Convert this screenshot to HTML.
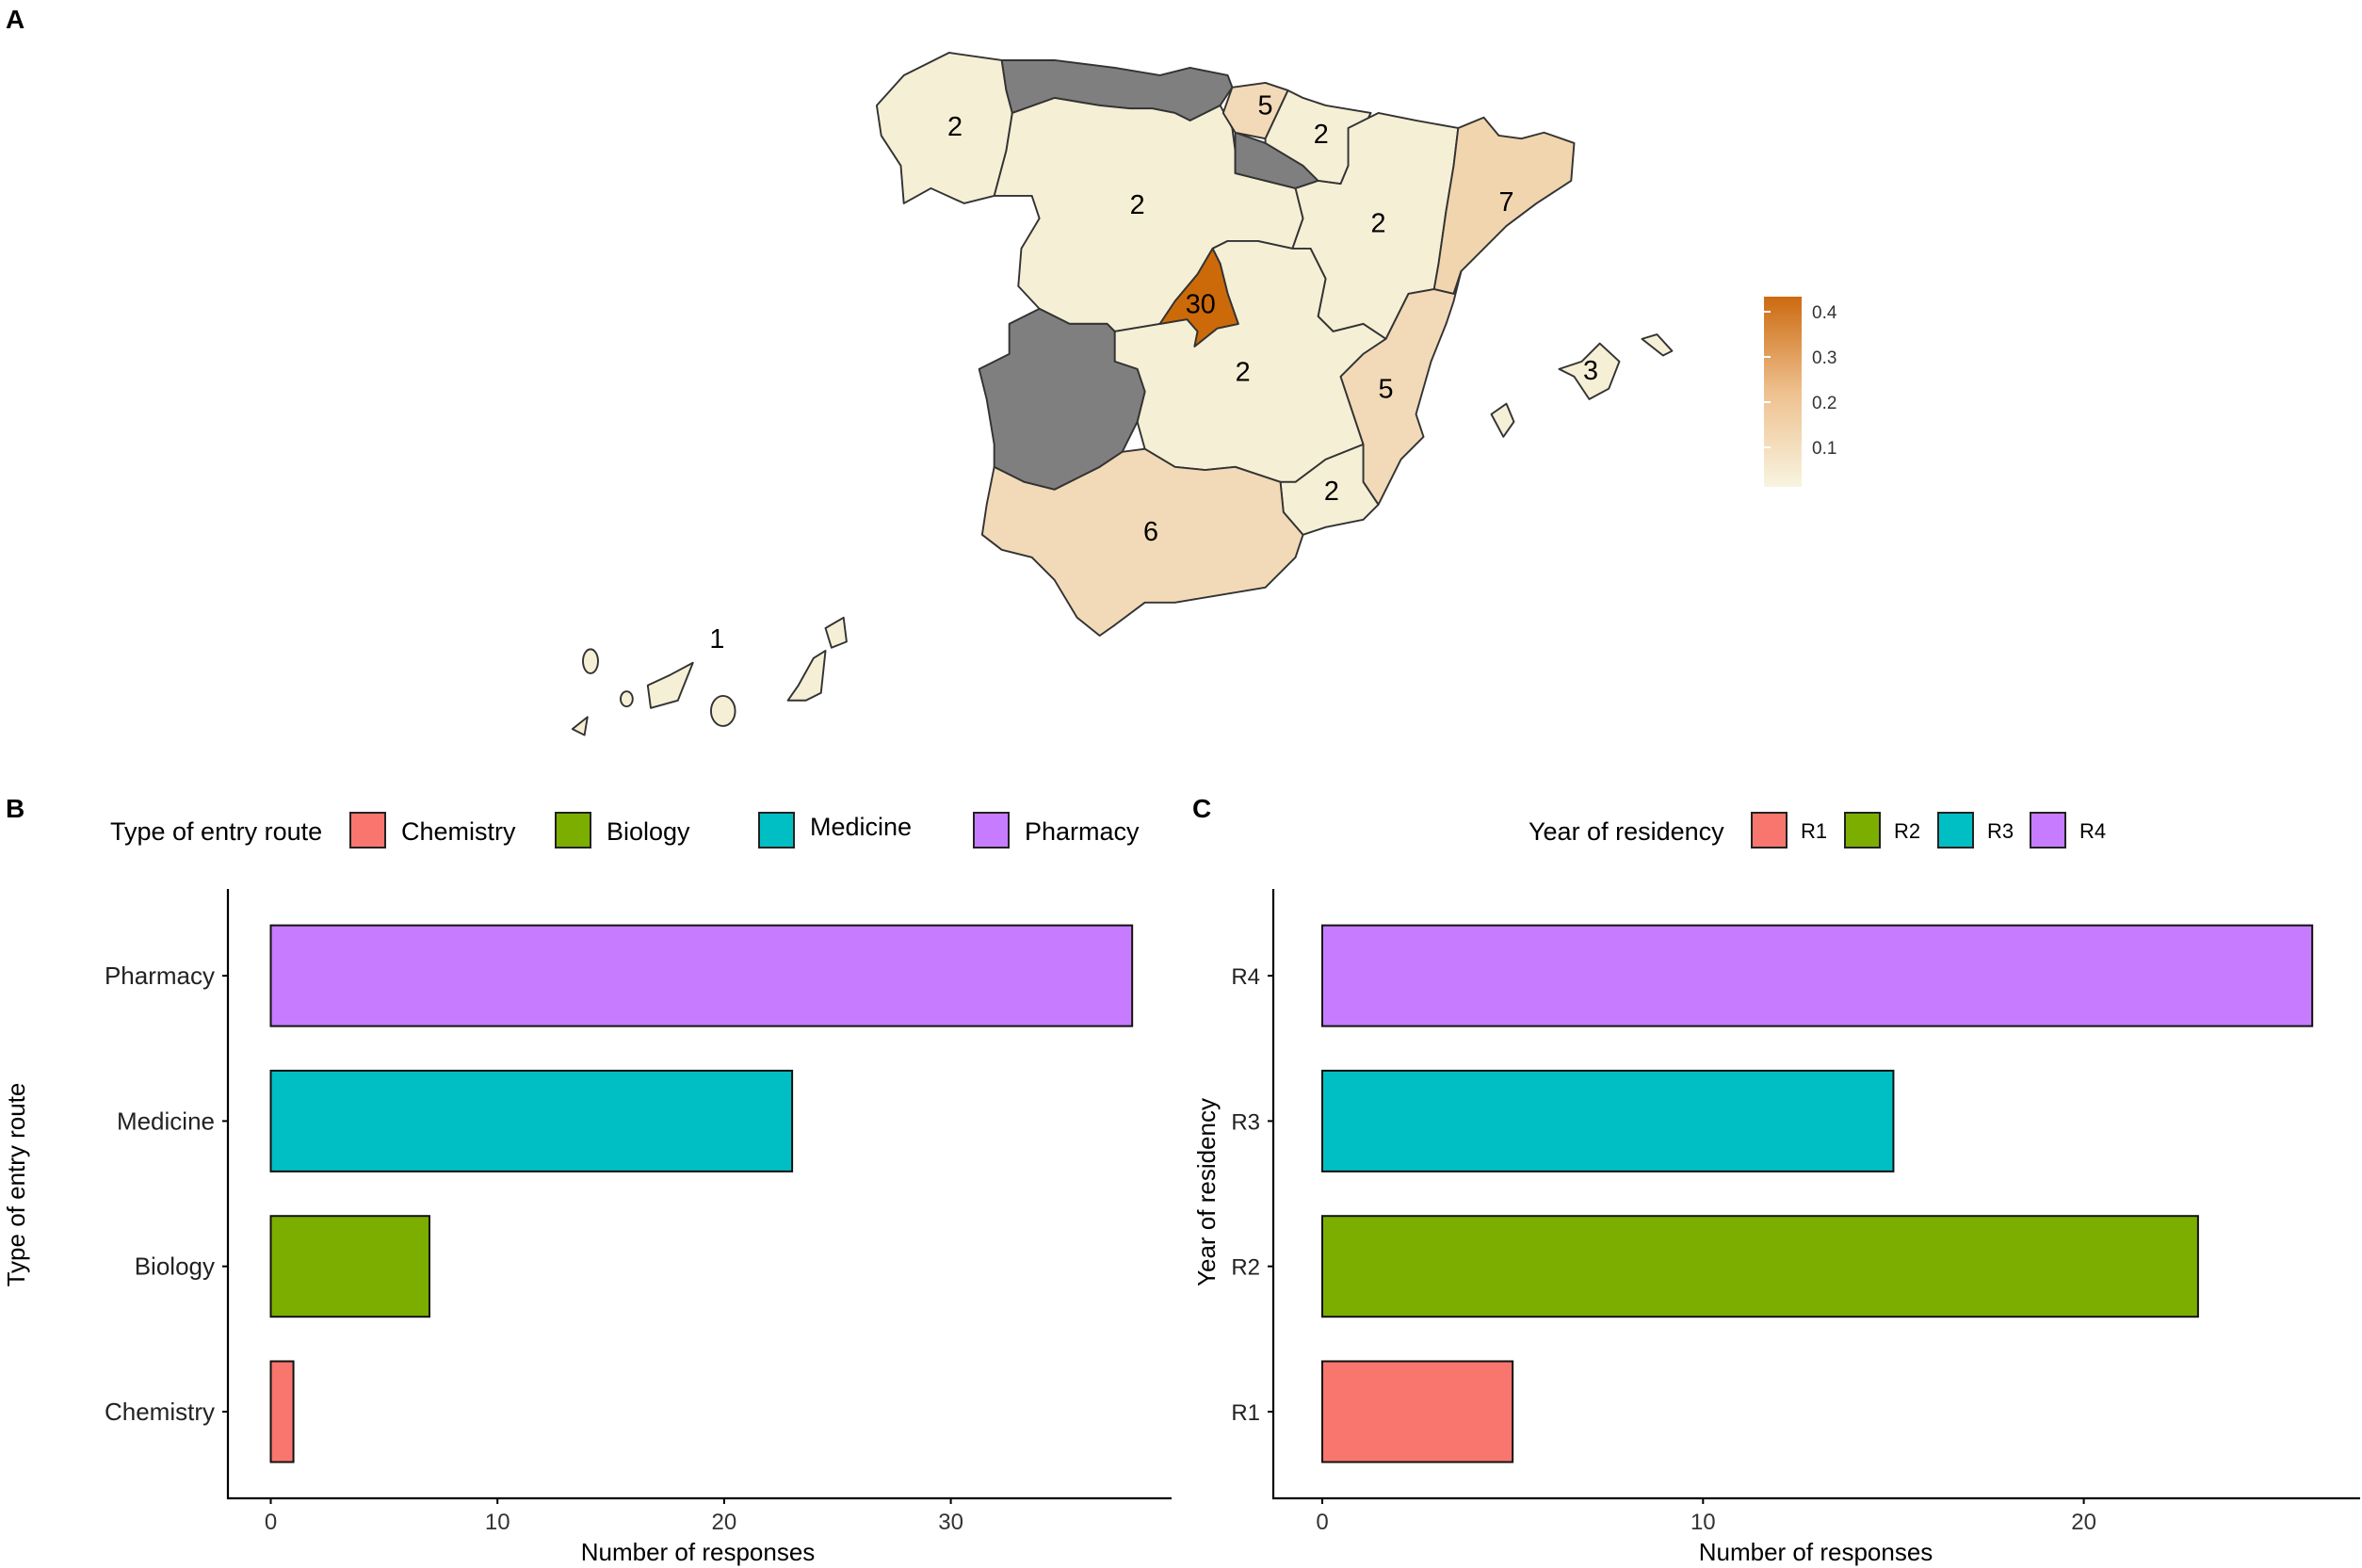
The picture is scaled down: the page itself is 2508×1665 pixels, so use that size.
<!DOCTYPE html>
<html><head><meta charset="utf-8">
<style>
html,body{margin:0;padding:0;background:#fff;}
svg{display:block;font-family:"Liberation Sans",Arial,sans-serif;}
</style></head>
<body>
<svg id="fig" width="2508" height="1665" viewBox="0 0 2508 1665" xmlns="http://www.w3.org/2000/svg">
<defs>
<linearGradient id="cbar" x1="0" y1="1" x2="0" y2="0">
<stop offset="0" stop-color="#f8f4e0"/><stop offset="0.5" stop-color="#eec08e"/><stop offset="1" stop-color="#cc6a10"/>
</linearGradient>
</defs>
<text x="6" y="30" font-size="28" font-weight="bold">A</text>
<g id="map" transform="scale(1.5995)" stroke="#333" stroke-width="1.2" stroke-linejoin="round">
<polygon fill="#f5efd6" points="582,70 600,50 630,35 665,40 668,60 672,75 668,100 660,130 640,135 618,125 600,135 598,110 585,90"/>
<polygon fill="#7f7f7f" points="665,40 700,40 740,45 770,50 790,45 815,50 818,58 810,70 790,80 780,75 765,72 750,72 730,70 700,65 672,75 668,60"/>
<polygon fill="#f5efd6" points="672,75 700,65 730,70 750,72 765,72 780,75 790,80 810,70 818,85 820,100 820,115 840,120 860,125 865,145 858,165 835,160 815,160 805,165 795,182 780,200 770,215 740,220 735,215 710,215 690,205 676,190 678,165 690,145 685,130 660,130 668,100"/>
<polygon fill="#7f7f7f" points="820,88 840,95 865,110 875,120 860,125 840,120 820,115"/>
<polygon fill="#f2dab8" points="818,58 840,55 855,60 848,75 840,92 820,88 812,75"/>
<polygon fill="#f5efd6" points="855,60 865,65 880,70 910,75 900,95 895,110 890,122 875,120 865,110 840,95 840,92 848,75"/>
<polygon fill="#f5efd6" points="895,85 915,75 940,80 968,85 965,110 960,140 955,175 952,192 935,195 920,225 905,215 885,220 875,210 880,185 870,165 858,165 865,145 860,125 875,120 890,122 895,110"/>
<polygon fill="#f1d5ae" points="968,85 985,78 995,90 1010,92 1025,88 1045,95 1043,120 1020,135 1000,150 985,165 970,180 965,195 952,192 955,175 960,140 965,110"/>
<polygon fill="#f5efd6" points="740,220 770,215 788,212 795,220 793,230 808,218 822,215 815,195 810,175 805,165 815,160 835,160 858,165 870,165 880,185 875,210 885,220 905,215 920,225 905,235 890,250 900,280 905,295 880,305 860,320 850,320 820,310 800,312 780,310 760,298 755,280 760,260 755,245 740,240"/>
<polygon fill="#cc6a0a" points="805,165 810,175 815,195 822,215 808,218 793,230 795,220 788,212 770,215 780,200 795,182"/>
<polygon fill="#7f7f7f" points="690,205 710,215 735,215 740,220 740,240 755,245 760,260 755,280 745,300 730,310 700,325 680,320 660,310 660,295 655,265 650,245 670,235 670,215"/>
<polygon fill="#f2dab8" points="952,192 965,195 970,180 965,200 960,215 950,240 940,275 945,290 930,305 915,335 905,320 905,295 900,280 890,250 905,235 920,225 935,195"/>
<polygon fill="#f5efd6" points="850,320 860,320 880,305 905,295 905,320 915,335 905,345 880,350 865,355 852,340"/>
<polygon fill="#f2dab8" points="660,310 680,320 700,325 730,310 745,300 760,298 780,310 800,312 820,310 850,320 852,340 865,355 860,370 840,390 810,395 780,400 760,400 740,415 730,422 715,410 700,385 685,370 665,365 652,355 655,335"/>
<polygon fill="#f5efd6" points="1035,245 1050,240 1062,228 1075,240 1068,258 1055,265 1045,250"/>
<polygon fill="#f5efd6" points="1090,225 1100,222 1110,233 1104,236"/>
<polygon fill="#f5efd6" points="990,275 1000,268 1005,280 998,290"/>
<g fill="#f5efd6">
<ellipse cx="392" cy="439" rx="5" ry="8"/>
<polygon points="430,455 445,448 460,440 450,465 432,470"/>
<ellipse cx="416" cy="464" rx="4" ry="5"/>
<ellipse cx="480" cy="472" rx="8" ry="10"/>
<polygon points="523,465 530,455 540,437 548,432 545,460 535,465"/>
<polygon points="548,417 560,410 562,426 552,430"/>
<polygon points="380,484 390,476 388,488"/>
</g>
<g stroke="none" fill="#000" font-size="18" text-anchor="middle">
<text x="634" y="90">2</text><text x="755" y="142">2</text><text x="840" y="76">5</text>
<text x="877" y="95">2</text><text x="915" y="154">2</text><text x="1000" y="140">7</text>
<text x="797" y="208">30</text><text x="825" y="253">2</text><text x="920" y="264">5</text>
<text x="884" y="332">2</text><text x="764" y="359">6</text><text x="1056" y="252">3</text>
<text x="476" y="430">1</text>
</g>
</g>
<g>
<rect x="1873" y="315" width="40" height="202" fill="url(#cbar)"/>
<g id="cbticks"></g>
</g>
<text x="6" y="868" font-size="28" font-weight="bold">B</text>
<text x="1266" y="868" font-size="28" font-weight="bold">C</text>
<g id="chartB"></g>
<g id="chartC"></g>
</svg>
<script>
const NS="http://www.w3.org/2000/svg";
// colorbar data
const cbTicks=[0.4,0.3,0.2,0.1];
// chart B data
const bCategories=["Chemistry","Biology","Medicine","Pharmacy"];
const bValues=[1,7,23,38];
const bTicks=[0,10,20,30];
// chart C data
const cCategories=["R1","R2","R3","R4"];
const cValues=[5,23,15,26];
const cTicks=[0,10,20];
const colors=["#f8766d","#7cae00","#00bfc4","#c77cff"];

function mk(tag,attrs,parent){const e=document.createElementNS(NS,tag);for(const k in attrs)e.setAttribute(k,attrs[k]);parent.appendChild(e);return e;}

// colorbar
(function(){
  const g=document.getElementById('cbticks');
  const y=v=>331+(0.4-v)*480;
  cbTicks.forEach(v=>{
    const l=mk('line',{x1:1873,x2:1880,y1:y(v),y2:y(v),stroke:'#fff','stroke-width':2},g);
    
    
    const t=mk('text',{x:1924,y:y(v)+7,'font-size':19,fill:'#333'},g);
    t.textContent=v.toFixed(1);
    
    
  });
})();

function drawChart(gid,cfg,cats,vals,ticks){
  const g=document.getElementById(gid);
  const x=v=>cfg.x0+v*cfg.unit;
  const yc=i=>1499-i*154.3;
  // axes
  const ya=mk('line',{x1:cfg.ax,x2:cfg.ax,y1:944,y2:1592,stroke:'#000','stroke-width':2.2},g);
  
  
  const xa=mk('line',{x1:cfg.ax-1,x2:cfg.axEnd,y1:1591,y2:1591,stroke:'#000','stroke-width':2.2},g);
  
  
  cats.forEach((c,i)=>{
    const r=mk('rect',{x:x(0),y:yc(i)-53.5,width:x(vals[i])-x(0),height:107,fill:colors[i],stroke:'#111','stroke-width':2},g);
    
    
    const tk=mk('line',{x1:cfg.ax-6,x2:cfg.ax,y1:yc(i),y2:yc(i),stroke:'#000','stroke-width':2},g);
    
    
    const t=mk('text',{x:cfg.ax-14,y:yc(i)+9,'font-size':cfg.ylfs,'text-anchor':'end',fill:'#222'},g);
    t.textContent=c;
    
    
  });
  ticks.forEach(v=>{
    const tk=mk('line',{x1:x(v),x2:x(v),y1:1591,y2:1597,stroke:'#000','stroke-width':2},g);
    
    
    const t=mk('text',{x:x(v),y:1624,'font-size':24,'text-anchor':'middle',fill:'#333'},g);
    t.textContent=v;
    
    
  });
  const xt=mk('text',{x:cfg.xtc,y:1657,'font-size':26,'text-anchor':'middle'},g);
  xt.textContent='Number of responses';
  
  
  const yt=mk('text',{x:0,y:0,'font-size':26,'text-anchor':'middle',transform:'translate('+cfg.ytx+','+cfg.yty+') rotate(-90)'},g);
  yt.textContent=cfg.title;
  
  
  // legend
  const lt=mk('text',{x:cfg.ltx,y:892,'font-size':27},g);
  lt.textContent=cfg.title;
  
  
  cats.forEach((c,i)=>{
    const k=mk('rect',{x:cfg.keys[i],y:863,width:37,height:37,fill:colors[i],stroke:'#222','stroke-width':2},g);
    
    
    const t=mk('text',{x:cfg.keys[i]+cfg.lgap,y:cfg.lty[i],'font-size':cfg.lfs},g);
    t.textContent=c;
    
    
  });
}
drawChart('chartB',{x0:287.5,unit:24.07,ax:242,axEnd:1244,ylfs:26,xtc:741,ytx:26,yty:1258,title:'Type of entry route',ltx:117,keys:[372,590,806,1034],lgap:54,lty:[892,892,887,892],lfs:27},bCategories,bValues,bTicks);
drawChart('chartC',{x0:1404,unit:40.43,ax:1352,axEnd:2506,ylfs:24,xtc:1928,ytx:1290,yty:1266,title:'Year of residency',ltx:1623,keys:[1860,1959,2058,2156],lgap:52,lty:[890,890,890,890],lfs:22},cCategories,cValues,cTicks);
</script>
</body></html>
